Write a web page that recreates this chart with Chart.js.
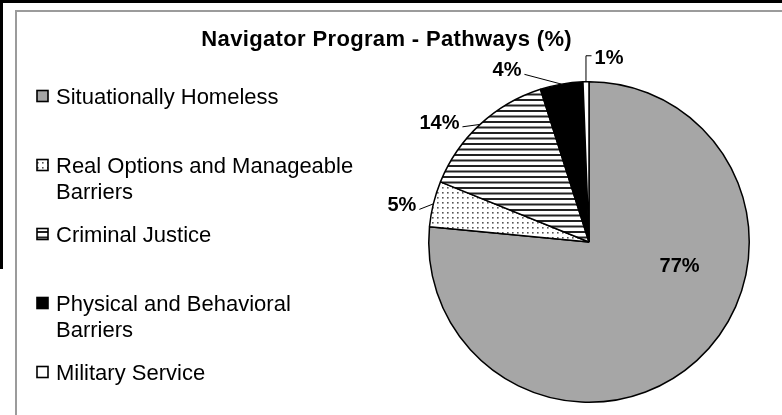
<!DOCTYPE html>
<html lang="en">
<head>
<meta charset="UTF-8">
<title>Navigator Program - Pathways (%)</title>
<script src="https://cdn.jsdelivr.net/npm/chart.js"></script>
<style>
  body { margin: 0; background: #ffffff; }
  .frame { position: relative; width: 782px; height: 415px; overflow: hidden; }
  .black-top { position: absolute; left: 0; top: 0; width: 782px; height: 3px; background: #000; }
  .black-left { position: absolute; left: 0; top: 0; width: 3px; height: 269px; background: #000; }
  .plot-border { position: absolute; left: 15px; top: 10px; width: 900px; height: 600px;
                 border-left: 2px solid #9b9b9b; border-top: 2px solid #9b9b9b; }
  canvas { position: absolute; left: 0; top: 0; }
</style>
</head>
<body>
<div class="frame">
  <div class="black-top"></div>
  <div class="black-left"></div>
  <div class="plot-border"></div>
  <canvas id="pathwaysChart" width="782" height="415"></canvas>
</div>

<script>
// data
const chartTitle = 'Navigator Program - Pathways (%)';
const categories = [
  'Situationally Homeless',
  'Real Options and Manageable Barriers',
  'Criminal Justice',
  'Physical and Behavioral Barriers',
  'Military Service'
];
const shares = [76.6, 4.6, 14.0, 4.3, 0.6];

// fill patterns like the old excel chart
function makeTile(w, h, draw) {
  const c = document.createElement('canvas');
  c.width = w;
  c.height = h;
  const t = c.getContext('2d');
  t.fillStyle = '#ffffff';
  t.fillRect(0, 0, w, h);
  draw(t);
  return c;
}

const canvas = document.getElementById('pathwaysChart');
const ctx = canvas.getContext('2d');

const dotTile = makeTile(5, 5, t => {
  t.fillStyle = '#555555';
  t.fillRect(2, 2, 1.6, 1.6);
});
const stripeTile = makeTile(8, 11, t => {
  t.fillStyle = '#222222';
  t.fillRect(0, 0, 8, 2);
  t.fillRect(0, 5.5, 8, 2);
});
const dotPattern = ctx.createPattern(dotTile, 'repeat');
const stripePattern = ctx.createPattern(stripeTile, 'repeat');
const sliceFills = ['#a6a6a6', dotPattern, stripePattern, '#000000', '#ffffff'];

// where the percent labels go (layout only)
const labelPlace = [
  { inside: true, fx: 0.565, fy: 0.143 },
  { dx: -31.5, dy: 0.5 },
  { dx: -40.7, dy: -2.6 },
  { dx: -54.5, dy: -14.8 },
  { dx: 23, dy: -25 }
];

function spacedText(c, text, x, y, spacing, align) {
  c.letterSpacing = spacing + 'px';
  const w = c.measureText(text).width - spacing;
  let left = x;
  if (align === 'center') left = x - w / 2;
  c.textAlign = 'left';
  c.fillText(text, left, y);
  c.letterSpacing = '0px';
  return w;
}

function wrapWords(c, text, maxWidth) {
  const words = text.split(' ');
  const lines = [];
  let line = '';
  words.forEach(w => {
    const test = line ? line + ' ' + w : w;
    if (line && c.measureText(test).width > maxWidth) {
      lines.push(line);
      line = w;
    } else {
      line = test;
    }
  });
  lines.push(line);
  return lines;
}

const decorPlugin = {
  id: 'decor',
  afterDraw(chart) {
    const c = chart.ctx;
    const meta = chart.getDatasetMeta(0);
    const fills = chart.data.datasets[0].backgroundColor;
    c.save();
    c.fillStyle = '#000';

    // title
    c.font = 'bold 22px "Liberation Sans", Arial, sans-serif';
    spacedText(c, chartTitle, 386.5, 46, 0.35, 'center');

    // legend
    c.font = '22px "Liberation Sans", Arial, sans-serif';
    chart.data.labels.forEach((lab, i) => {
      const base = 104 + i * 69;
      c.fillStyle = fills[i];
      c.fillRect(37, base - 13.5, 11, 11);
      c.strokeStyle = '#000';
      c.lineWidth = 1.6;
      c.strokeRect(37, base - 13.5, 11, 11);
      c.fillStyle = '#000';
      const lines = wrapWords(c, lab, 305);
      lines.forEach((ln, k) => spacedText(c, ln, 56, base + k * 25.5, 0, 'left'));
    });

    // percent labels
    c.font = 'bold 20px "Liberation Sans", Arial, sans-serif';
    c.strokeStyle = '#000';
    c.lineWidth = 1;
    meta.data.forEach((arc, i) => {
      const p = arc.getProps(['x', 'y', 'startAngle', 'endAngle', 'outerRadius'], true);
      const mid = (p.startAngle + p.endAngle) / 2;
      const ex = p.x + Math.cos(mid) * p.outerRadius;
      const ey = p.y + Math.sin(mid) * p.outerRadius;
      const txt = Math.round(chart.data.datasets[0].data[i]) + '%';
      const w = c.measureText(txt).width;
      const pl = labelPlace[i];
      let lx, ly;
      if (pl.inside) {
        lx = p.x + pl.fx * p.outerRadius;
        ly = p.y + pl.fy * p.outerRadius;
      } else {
        lx = ex + pl.dx;
        ly = ey + pl.dy;
        c.beginPath();
        if (pl.dx < 0) {
          c.moveTo(lx + w / 2 + 3, ly + 5);
          c.lineTo(ex, ey);
        } else {
          const sx = lx - w / 2 - 3;
          c.moveTo(sx, ly - 1);
          c.lineTo(ex, ly - 1);
          c.lineTo(ex, ey);
        }
        c.stroke();
      }
      c.textAlign = 'center';
      c.fillText(txt, lx, ly + 7);
    });
    c.restore();
  }
};

const pathwaysChart = new Chart(ctx, {
  type: 'pie',
  data: {
    labels: categories,
    datasets: [{
      data: shares,
      backgroundColor: sliceFills,
      borderColor: '#000000',
      borderWidth: 1.5
    }]
  },
  options: {
    responsive: false,
    devicePixelRatio: 1,
    animation: false,
    events: [],
    layout: { padding: { left: 428, right: 32, top: 81, bottom: 12 } },
    plugins: {
      legend: { display: false },
      tooltip: { enabled: false },
      title: { display: false }
    }
  },
  plugins: [decorPlugin]
});
</script>
</body>
</html>
